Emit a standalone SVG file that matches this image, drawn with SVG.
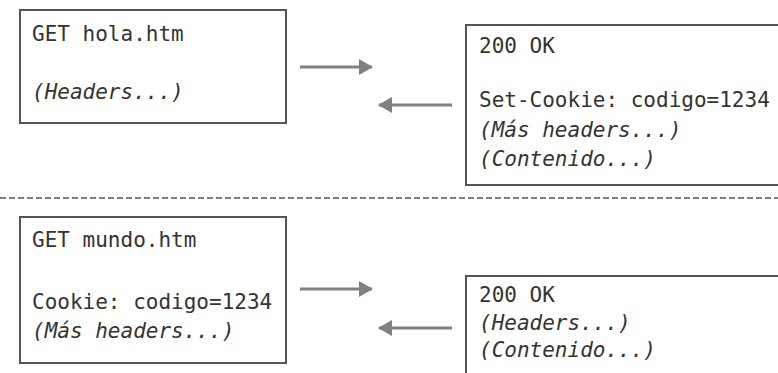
<svg xmlns="http://www.w3.org/2000/svg" width="778" height="373" viewBox="0 0 778 373">
<defs>
<style>
.box{fill:#fff;stroke:#555;stroke-width:2}
.t{font-family:"DejaVu Sans Mono","Liberation Mono",monospace;font-size:21px;fill:#333}
.i{font-style:italic}
.arr{stroke:#808080;stroke-width:3;fill:none}
.sep{stroke:#808080;stroke-width:2;stroke-dasharray:6 3}
</style>
<marker id="ah" viewBox="0 0 14 16" refX="13" refY="8" markerWidth="14" markerHeight="16" markerUnits="userSpaceOnUse" orient="auto">
<path d="M0,0 L14,8 L0,16 Z" fill="#808080"/>
</marker>
</defs>
<rect width="778" height="373" fill="#fff"/>
<g id="req1">
<rect class="box" x="20" y="10" width="266" height="113"/>
<text class="t" x="32" y="41">GET hola.htm</text>
<text class="t i" x="32" y="99">(Headers...)</text>
</g>
<g id="resp1">
<rect class="box" x="466" y="25" width="330" height="160"/>
<text class="t" x="479" y="53">200 OK</text>
<text class="t" x="479" y="107">Set-Cookie: codigo=1234</text>
<text class="t i" x="479" y="137">(Más headers...)</text>
<text class="t i" x="479" y="166">(Contenido...)</text>
</g>
<g id="req2">
<rect class="box" x="20" y="217" width="266" height="146"/>
<text class="t" x="32" y="247">GET mundo.htm</text>
<text class="t" x="32" y="309">Cookie: codigo=1234</text>
<text class="t i" x="32" y="338">(Más headers...)</text>
</g>
<g id="resp2">
<rect class="box" x="466" y="276" width="330" height="120"/>
<text class="t" x="479" y="302">200 OK</text>
<text class="t i" x="479" y="330">(Headers...)</text>
<text class="t i" x="479" y="357">(Contenido...)</text>
</g>
<g id="connectors">
<line class="sep" x1="0" y1="198" x2="778" y2="198"/>
<line class="arr" x1="300" y1="67" x2="372" y2="67" marker-end="url(#ah)"/>
<line class="arr" x1="452" y1="105" x2="379" y2="105" marker-end="url(#ah)"/>
<line class="arr" x1="300" y1="289" x2="372" y2="289" marker-end="url(#ah)"/>
<line class="arr" x1="452" y1="328" x2="379" y2="328" marker-end="url(#ah)"/>
</g>
</svg>
